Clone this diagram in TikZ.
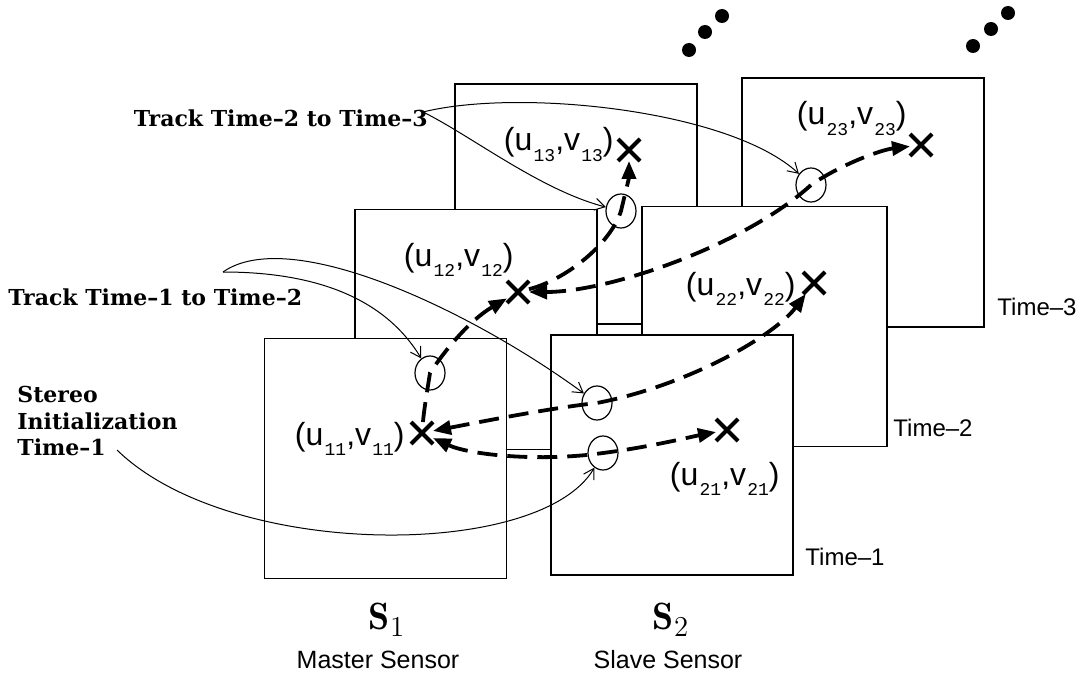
\documentclass[tikz,border=0pt]{standalone}
\usepackage{fontspec}
\usetikzlibrary{arrows.meta,shapes.geometric,shapes.misc}
\newfontfamily\hv{Liberation Sans}
\newfontfamily\cour{Liberation Mono}
\newfontfamily\dvs{DejaVu Serif}
\newcommand\subdig[1]{\kern0.6pt\raisebox{-0.65ex}{\cour\fontsize{9}{9}\selectfont#1}}
\newcommand\uvlab[1]{(u\subdig{#1},v\subdig{#1})}

\begin{document}
\begin{tikzpicture}[
  x=0.5pt, y=-0.5pt,
  frm/.style  = {draw, fill=white, line width=0.7pt, inner sep=0pt,
                 minimum width=121pt, minimum height=120pt},
  srch/.style = {draw, ellipse, line width=0.6pt, inner sep=0pt,
                 minimum width=15pt, minimum height=17pt},
  xmk/.style  = {cross out, draw, line width=2pt, minimum size=9pt,
                 inner sep=0pt, outer sep=1pt},
  dsh/.style  = {line width=1.9pt, dash pattern=on 10pt off 5pt},
  dsh1/.style = {dsh, -{Triangle[length=9pt,width=7pt]}},
  dsh2/.style = {dsh, {Triangle[length=9pt,width=7pt]}-{Triangle[length=9pt,width=7pt]}},
  trk/.style  = {line width=0.5pt, -{Straight Barb[length=5pt,width=6pt]}},
  bsf/.style  = {font=\dvs\fontsize{11}{13.25}\selectfont\bfseries, inner sep=0pt},
  hvl/.style  = {font=\hv\fontsize{12}{14}\selectfont, inner sep=0pt},
  uvl/.style  = {font=\hv\fontsize{16}{18}\selectfont, inner sep=0pt, anchor=base east},
  blob/.style = {circle, fill, inner sep=0pt, minimum size=7pt},
]
  \useasboundingbox (0,0) rectangle (1083,674);

  % ---- image frames, back to front ---------------------------
  \node[frm] (m3) at (576,204) {};
  \node[frm, minimum height=124.5pt] (s3) at (863,202.5) {};
  \node[frm] (m2) at (476,329.5) {};
  \node[frm, minimum width=122.5pt] (s2) at (764.5,326.5) {};
  \node[frm] (m1) at (385.5,458.5) {};
  \node[frm] (s1) at (672,455) {};

  \node[hvl, anchor=west] (tm1) at (805,557) {Time–1};
  \node[hvl, anchor=west] (tm2) at (893,428) {Time–2};
  \node[hvl, anchor=west] (tm3) at (997,307) {Time–3};

  % ---- more time steps ----------------------------------------
  \foreach \px/\py [count=\i] in {689/50, 705/32, 722/16, 973/46, 991/29, 1008/13}
    \node[blob] (dt\i) at (\px,\py) {};

  % ---- feature points and search windows ----------------------
  \node[xmk] (x11) at (422,433) {};
  \node[xmk] (x12) at (518,292) {};
  \node[xmk] (x13) at (629,150) {};
  \node[xmk] (x21) at (727,430) {};
  \node[xmk] (x22) at (814,283) {};
  \node[xmk] (x23) at (921,145) {};

  \node[srch] (c12) at (430,373) {};
  \node[srch] (c13) at (621,211) {};
  \node[srch] (c21) at (603,453) {};
  \node[srch] (c22) at (597,403) {};
  \node[srch] (c23) at (811,185) {};

  \node[uvl] (uv11) at (405,445) {\uvlab{11}};
  \node[uvl] (uv12) at (514,266) {\uvlab{12}};
  \node[uvl] (uv13) at (614,151) {\uvlab{13}};
  \node[uvl] (uv21) at (780,485) {\uvlab{21}};
  \node[uvl] (uv22) at (796,295) {\uvlab{22}};
  \node[uvl] (uv23) at (907,125) {\uvlab{23}};

  % ---- tracks -------------------------------------------------
  \draw[dsh1] (x11) .. controls (424,410) and (427,392) .. (c12.center)
                    .. controls (445,350) and (470,320) .. (x12);
  \draw[dsh1] (x12) .. controls (565,280) and (610,245) .. (c13.center)
                    .. controls (626,190) and (629,178) .. (x13);
  \draw[dsh2] (x12) .. controls (610,292) and (745,245) .. (c23.center)
                    .. controls (840,165) and (880,150) .. (x23);
  \draw[dsh2] (x11) .. controls (480,422) and (550,408) .. (c22.center)
                    .. controls (690,385) and (775,335) .. (x22);
  \draw[dsh2] (x11) .. controls (470,455) and (540,462) .. (c21.center)
                    .. controls (650,447) and (690,437) .. (x21);

  % ---- step labels --------------------------------------------
  \node[bsf, anchor=east] (lt23) at (428,118) {Track Time–2 to Time–3};
  \node[bsf, anchor=west] (lt12) at (8,297) {Track Time–1 to Time–2};
  \node[bsf, anchor=north west, align=left] (lst) at (17,386)
       {Stereo\\Initialization\\Time–1};

  \coordinate (t23o) at (423,112);
  \coordinate (t12o) at (223,272);
  \coordinate (sto)  at (117,450);

  \draw[trk] (t23o) .. controls (520,88) and (730,110) .. (c23);
  \draw[trk] (t23o) .. controls (470,135) and (540,190) .. (c13);
  \draw[trk] (t12o) .. controls (290,225) and (470,310) .. (c22);
  \draw[trk] (t12o) .. controls (300,272) and (380,290) .. (c12);
  \draw[trk] (sto)  .. controls (230,560) and (540,560) .. (c21);

  % ---- sensors ------------------------------------------------
  \node[font=\fontsize{19}{22}\selectfont, inner sep=0pt] (sn1) at (387,620) {$\mathbf{S}_1$};
  \node[font=\fontsize{19}{22}\selectfont, inner sep=0pt] (sn2) at (671,620) {$\mathbf{S}_2$};
  \node[hvl, font=\hv\fontsize{12.5}{14}\selectfont] (ms) at (378,660) {Master Sensor};
  \node[hvl, font=\hv\fontsize{12.5}{14}\selectfont] (ss) at (668,660) {Slave Sensor};
\end{tikzpicture}
\end{document}
